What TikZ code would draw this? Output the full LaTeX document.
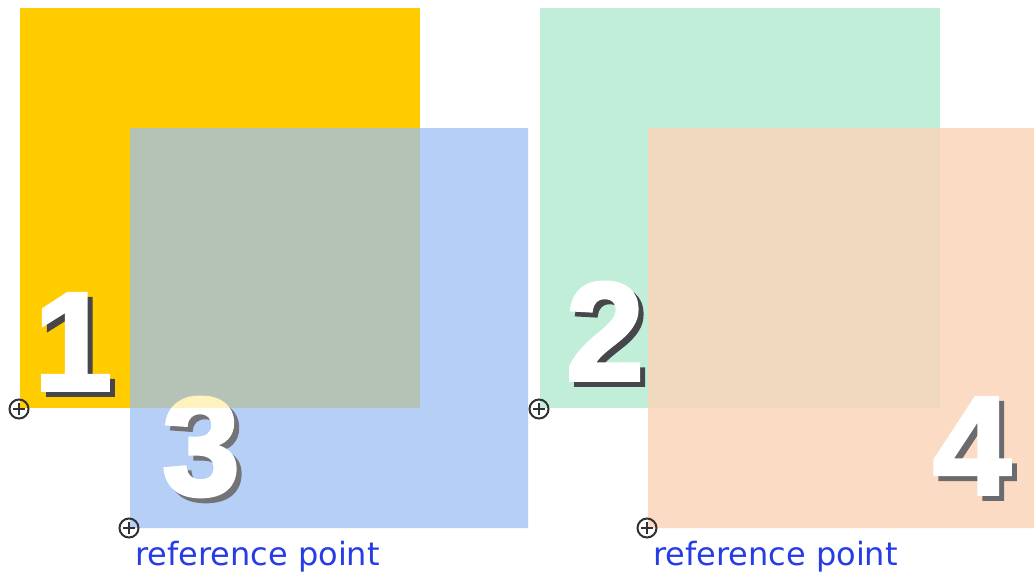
\documentclass[tikz,border=0pt]{standalone}
\usepackage{fontspec}
\newfontfamily\dv{DejaVu Sans}
\newfontfamily\heavy[FakeBold=2.5]{Liberation Sans Bold}
\definecolor{sqyellow}{RGB}{255,204,0}
\definecolor{sqblue}{RGB}{157,192,245}
\definecolor{sqgreen}{RGB}{192,238,216}
\definecolor{sqpeach}{RGB}{251,211,181}
\definecolor{shadowgray}{RGB}{70,70,75}
\definecolor{labelblue}{RGB}{38,60,230}
\definecolor{markgray}{RGB}{50,50,50}
\tikzset{
  digit/.style={font=\heavy\fontsize{140}{140}\selectfont, text=white, inner sep=0pt, anchor=base},
  digitshadow/.style={digit, text=shadowgray},
  refmark/.style={circle, draw=markgray, line width=2pt, minimum size=19pt, inner sep=0pt,
    path picture={\draw[markgray, line width=1.6pt] ([xshift=-6pt]path picture bounding box.center) -- ([xshift=6pt]path picture bounding box.center)
      ([yshift=-6pt]path picture bounding box.center) -- ([yshift=6pt]path picture bounding box.center);}},
  reflabel/.style={font=\dv\fontsize{32}{32}\selectfont, text=labelblue, inner sep=0pt, anchor=base west}
}
\begin{document}
\begin{tikzpicture}[x=1pt,y=-1pt]
\useasboundingbox[fill=white] (0,0) rectangle (1034,574);
% square 1
\fill[sqyellow] (20,8) rectangle (420,408);
\node[digitshadow] (s1) at (78,395) {1};
\node[digit] (d1) at (73,390) {1};
% square 3
\begin{scope}[transparency group, opacity=0.75]
  \fill[sqblue] (130,128) rectangle (528,528);
  \node[digitshadow] (s3) at (206,500) {3};
  \node[digit] (d3) at (201,495) {3};
\end{scope}
% square 2
\fill[sqgreen] (540,8) rectangle (940,408);
\node[digitshadow] (s2) at (610,385) {2};
\node[digit] (d2) at (605,380) {2};
% square 4
\begin{scope}[transparency group, opacity=0.8]
  \fill[sqpeach] (648,128) rectangle (1034,528);
  \node[digitshadow] (s4) at (977,499) {4};
  \node[digit] (d4) at (972,494) {4};
\end{scope}
% reference points
\node[refmark] (r1) at (19,409) {};
\node[refmark] (r3) at (129,528) {};
\node[refmark] (r2) at (539,409) {};
\node[refmark] (r4) at (647,528) {};
\node[reflabel] (l3) at (135,565) {reference point};
\node[reflabel] (l4) at (653,565) {reference point};
\end{tikzpicture}
\end{document}
